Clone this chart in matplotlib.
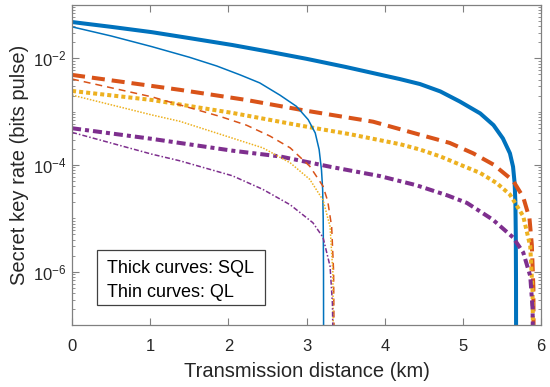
import numpy as np
import matplotlib
matplotlib.use('Agg')
import matplotlib.pyplot as plt
from matplotlib.ticker import LogLocator, FixedLocator, NullFormatter

plt.rcParams['font.family'] = ['Liberation Sans', 'DejaVu Sans']
plt.rcParams['mathtext.default'] = 'regular'
plt.rcParams['lines.scale_dashes'] = False

# Thick curves (SQL)
sql_blue_x = [0, 0.5, 1.02, 1.5, 2.05, 2.5, 3.0, 3.5, 4.19, 4.45, 4.71, 4.96, 5.22, 5.39, 5.51,
              5.6, 5.64, 5.66, 5.67, 5.675, 5.678, 5.68]
sql_blue_y = [4.8e-2, 3.9e-2, 3.1e-2, 2.4e-2, 1.78e-2, 1.35e-2, 9.8e-3, 6.9e-3, 4.1e-3, 3.3e-3,
              2.4e-3, 1.55e-3, 9.3e-4, 5.6e-4, 3.16e-4, 1.66e-4, 9.3e-5, 4.6e-5, 2e-5, 5e-6,
              6.3e-7, 1e-9]

sql_red_x = [0, 1.38, 2.23, 2.95, 3.85, 4.45, 4.83, 5.13, 5.39, 5.64, 5.77, 5.85, 5.88, 5.9, 5.905]
sql_red_y = [4.9e-3, 2.57e-3, 1.66e-3, 1.07e-3, 6.5e-4, 3.7e-4, 2.6e-4, 1.66e-4, 1.02e-4, 5.1e-5,
             2.5e-5, 1e-5, 3.2e-6, 5e-7, 1e-8]

sql_yellow_x = [0, 1.02, 2.05, 2.95, 3.55, 4.2, 4.45, 4.71, 4.96, 5.22, 5.43, 5.6, 5.77, 5.86,
                5.89, 5.9]
sql_yellow_y = [2.45e-3, 1.66e-3, 9.5e-4, 5.4e-4, 3.8e-4, 2.45e-4, 1.95e-4, 1.45e-4, 1.02e-4,
                7.1e-5, 4.6e-5, 2.8e-5, 1.1e-5, 3e-6, 4e-7, 1e-8]

sql_purple_x = [0, 1.02, 2.05, 2.66, 3.3, 3.94, 4.4, 4.8, 5.05, 5.38, 5.64, 5.77, 5.86, 5.89, 5.9]
sql_purple_y = [4.9e-4, 3.1e-4, 1.86e-4, 1.45e-4, 9.3e-5, 6.2e-5, 4.2e-5, 2.7e-5, 1.95e-5, 9.5e-6,
                4.4e-6, 2.3e-6, 8.3e-7, 2e-7, 1e-8]

# Thin curves (QL)
ql_blue_x = [0, 0.5, 1.02, 1.5, 1.85, 2.15, 2.40, 2.66, 2.87, 3.02, 3.11, 3.16, 3.19, 3.205,
             3.212, 3.216, 3.218]
ql_blue_y = [3.9e-2, 2.63e-2, 1.66e-2, 1.05e-2, 7.2e-3, 4.9e-3, 3.47e-3, 2.04e-3, 1.26e-3, 7.1e-4,
             4e-4, 1.95e-4, 8.1e-5, 3.5e-5, 1e-5, 1e-6, 1e-9]

ql_red_x = [0, 1.02, 1.9, 2.23, 2.53, 2.79, 3.04, 3.21, 3.27, 3.32, 3.345, 3.355]
ql_red_y = [4.1e-3, 1.9e-3, 8.1e-4, 5.6e-4, 3.5e-4, 2.1e-4, 9.5e-5, 4e-5, 2.1e-5, 7e-6, 1e-6, 1e-8]

ql_yellow_x = [0, 1.02, 1.38, 2.05, 2.44, 2.79, 3.04, 3.21, 3.3, 3.335, 3.345]
ql_yellow_y = [2.05e-3, 8.7e-4, 6.6e-4, 3.2e-4, 2.1e-4, 1.1e-4, 5.4e-5, 2.2e-5, 7e-6, 1e-6, 1e-8]

ql_purple_x = [0, 1.02, 1.38, 2.05, 2.44, 2.79, 3.08, 3.21, 3.3, 3.33, 3.345]
ql_purple_y = [4.1e-4, 1.6e-4, 1.2e-4, 6.3e-5, 3.5e-5, 1.8e-5, 8.3e-6, 4.4e-6, 1.26e-6, 2.5e-7, 1e-8]

blue, red, yellow, purple = '#0072BD', '#D95319', '#EDB120', '#7E2F8E'

fig = plt.figure(figsize=(5.5, 3.87), dpi=100)
ax = fig.add_axes([0.131, 0.160, 0.853, 0.827])

thick, thin = 2.9, 1.1
ax.plot(sql_blue_x, sql_blue_y, color=blue, lw=thick, solid_capstyle='butt')
ax.plot(sql_red_x, sql_red_y, color=red, lw=thick, dashes=(9.4, 5.0), dash_capstyle='butt')
ax.plot(sql_yellow_x, sql_yellow_y, color=yellow, lw=thick, dashes=(2.9, 2.2), dash_capstyle='butt')
ax.plot(sql_purple_x, sql_purple_y, color=purple, lw=thick, dashes=(6.5, 2.9, 2.9, 2.9), dash_capstyle='butt')

ax.plot(ql_blue_x, ql_blue_y, color=blue, lw=thin)
ax.plot(ql_red_x, ql_red_y, color=red, lw=thin, dashes=(5.0, 3.6), dash_capstyle='butt')
ax.plot(ql_yellow_x, ql_yellow_y, color=yellow, lw=thin, dashes=(1.1, 1.1), dash_capstyle='butt')
ax.plot(ql_purple_x, ql_purple_y, color=purple, lw=thin, dashes=(3.6, 1.5, 1.1, 1.5), dash_capstyle='butt')

ax.set_yscale('log')
ax.set_xlim(0, 6)
ax.set_ylim(1e-7, 1e-1)
ax.set_xticks(range(0, 7))
ax.yaxis.set_major_locator(FixedLocator([1e-6, 1e-4, 1e-2]))
ax.yaxis.set_major_formatter(matplotlib.ticker.FuncFormatter(
    lambda v, p: '$10^{%d}$' % int(round(np.log10(v)))))
ax.yaxis.set_minor_locator(LogLocator(base=10, subs=np.arange(1, 10), numticks=100))
ax.yaxis.set_minor_formatter(NullFormatter())

axis_col = '#808080'
text_col = '#262626'
for s in ax.spines.values():
    s.set_color(axis_col)
    s.set_linewidth(0.9)
ax.tick_params(which='both', direction='in', top=True, right=True, color=axis_col,
               labelcolor=text_col, labelsize=12)
ax.tick_params(which='major', length=5)
ax.tick_params(which='minor', length=2.5)
ax.tick_params(axis='x', pad=10)
ax.tick_params(axis='y', pad=4)

ax.set_xlabel('Transmission distance (km)', fontsize=14.5, color=text_col, labelpad=6)
ax.set_ylabel('Secret key rate (bits pulse)', fontsize=14.5, color=text_col, labelpad=3)

# annotation box
box = plt.Rectangle((0.0533, 0.0625), 0.358, 0.1715, transform=ax.transAxes,
                    facecolor='white', edgecolor='#404040', lw=0.9, zorder=5)
ax.add_patch(box)
ax.text(0.0746, 0.178, 'Thick curves: SQL', transform=ax.transAxes, fontsize=13,
        va='center', ha='left', color='black', zorder=6)
ax.text(0.0746, 0.103, 'Thin curves: QL', transform=ax.transAxes, fontsize=13,
        va='center', ha='left', color='black', zorder=6)

fig.savefig('out.png', dpi=100)
